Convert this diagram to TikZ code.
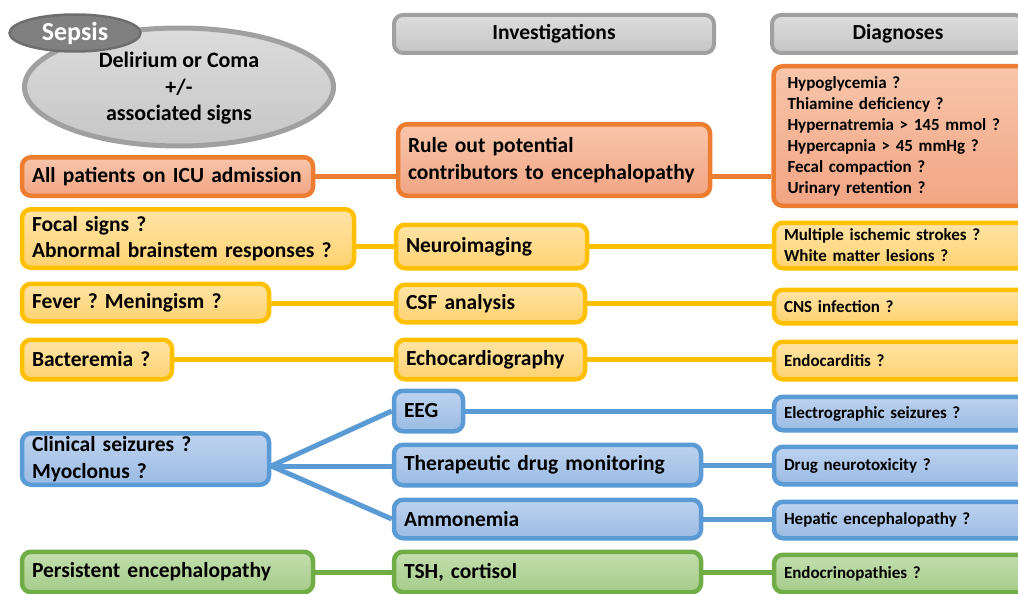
\documentclass[tikz,border=0pt]{standalone}
\usepackage{fontspec}
\setmainfont{Carlito}
\frenchspacing
\usetikzlibrary{shapes.geometric}
\definecolor{oB}{HTML}{ED7D31}
\definecolor{oT}{HTML}{F8C6AB}
\definecolor{oL}{HTML}{F1A584}
\definecolor{yB}{HTML}{FFC000}
\definecolor{yT}{HTML}{FFE4A6}
\definecolor{yL}{HTML}{FFD270}
\definecolor{bB}{HTML}{5B9BD5}
\definecolor{bT}{HTML}{BED3EF}
\definecolor{bL}{HTML}{9BBBE3}
\definecolor{gB}{HTML}{70AD47}
\definecolor{gT}{HTML}{C3DEAE}
\definecolor{gL}{HTML}{A5CC8A}
\definecolor{kB}{HTML}{A0A0A0}
\definecolor{kT}{HTML}{DCDCDC}
\definecolor{kL}{HTML}{C6C6C6}
\definecolor{sF}{HTML}{808080}
\definecolor{sB}{HTML}{6E6E6E}
\begin{document}
\begin{tikzpicture}[x=1pt,y=-1pt,
  box/.style={rounded corners=9pt, line width=4.5pt, inner xsep=10pt, inner ysep=1pt, align=left,
    execute at begin node={\hyphenpenalty=10000\exhyphenpenalty=10000},
    font=\frenchspacing\bfseries\fontsize{21.5}{26.5}\selectfont},
  smalltext/.style={font=\frenchspacing\bfseries\fontsize{17}{21}\selectfont},
  obox/.style={box, draw=oB, top color=oT, bottom color=oL},
  ybox/.style={box, draw=yB, top color=yT, bottom color=yL},
  bbox/.style={box, draw=bB, top color=bT, bottom color=bL},
  gbox/.style={box, draw=gB, top color=gT, bottom color=gL},
  hbox/.style={box, draw=kB, top color=kT, bottom color=kL, align=center, line width=4pt,
    font=\bfseries\fontsize{21.5}{24}\selectfont},
  conn/.style={line width=5pt},
  oline/.style={conn, draw=oB},
  yline/.style={conn, draw=yB},
  bline/.style={conn, draw=bB},
  gline/.style={conn, draw=gB}
]
\useasboundingbox (0,0) rectangle (1018,594);
\clip (0,0) rectangle (1018,594);

% top ellipses
\node[ellipse, draw=kB, line width=5pt, top color=kT, bottom color=kL, minimum width=309, minimum height=118,
  align=center, font=\bfseries\fontsize{22}{26.5}\selectfont] (main) at (179,87)
  {\strut Delirium or Coma\\+/-\\associated signs};
\node[ellipse, draw=sB, line width=2.5pt, fill=sF, minimum width=131, minimum height=37,
  text=white, font=\bfseries\fontsize{26}{28}\selectfont, inner sep=0pt] (sepsis) at (75,33) {Sepsis};

% headers
\node[hbox, minimum width=320, minimum height=38] (hinv) at (554,34) {Investigations};
\node[hbox, minimum width=252, minimum height=38] (hdia) at (898,34) {Diagnoses};

% left column
\node[obox, text width=271, minimum height=38.5] (all) at (167.5,176.5) {All patients on ICU admission};
\node[ybox, text width=312, minimum height=58.5] (focal) at (188,238.5) {Focal signs ?\\Abnormal brainstem responses ?};
\node[ybox, text width=227, minimum height=37.5] (fever) at (145.5,302.5) {Fever ? Meningism ?};
\node[ybox, text width=130, minimum height=39.5] (bact) at (97,359.5) {Bacteremia ?};
\node[bbox, text width=227, minimum height=51.5] (clin) at (145.5,459) {Clinical seizures ?\\Myoclonus ?};
\node[gbox, text width=271, minimum height=40.5] (pers) at (167.5,572) {Persistent encephalopathy};

% middle column
\node[obox, text width=292, minimum height=71.5, font=\frenchspacing\bfseries\fontsize{21.5}{27}\selectfont] (rule) at (554,160) {Rule out potential\\contributors to encephalopathy};
\node[ybox, text width=171, minimum height=43.5] (neuro) at (491.5,246.5) {Neuroimaging};
\node[ybox, text width=169, minimum height=37.5] (csf) at (490.5,303.5) {CSF analysis};
\node[ybox, text width=169, minimum height=39.5] (echo) at (490.5,359.5) {Echocardiography};
\node[bbox, text width=49, minimum height=40.5] (eeg) at (428.5,411) {EEG};
\node[bbox, text width=287, minimum height=40.5] (tdm) at (547.5,465) {Therapeutic drug monitoring};
\node[bbox, text width=287, minimum height=38.5] (amm) at (547.5,519) {Ammonemia};
\node[gbox, text width=287, minimum height=40.5] (tsh) at (547.5,572) {TSH, cortisol};

% right column
\node[obox, smalltext, inner xsep=14pt, text width=242, minimum height=139.5] (dO) at (908.5,136)
  {Hypoglycemia ?\\Thiamine deficiency ?\\Hypernatremia > 145 mmol ?\\Hypercapnia > 45 mmHg ?\\Fecal compaction ?\\Urinary retention ?};
\node[ybox, smalltext, text width=249, minimum height=45.5] (dN) at (908.5,245.5) {Multiple ischemic strokes ?\\White matter lesions ?};
\node[ybox, smalltext, text width=249, minimum height=33.5] (dC) at (908.5,306.5) {CNS infection ?};
\node[ybox, smalltext, text width=249, minimum height=37.5] (dE) at (908.5,360.5) {Endocarditis ?};
\node[bbox, smalltext, text width=249, minimum height=33.5] (dEEG) at (908.5,413.5) {Electrographic seizures ?};
\node[bbox, smalltext, text width=249, minimum height=37.5] (dD) at (908.5,465.5) {Drug neurotoxicity ?};
\node[bbox, smalltext, text width=249, minimum height=36.5] (dH) at (908.5,520) {Hepatic encephalopathy ?};
\node[gbox, smalltext, text width=249, minimum height=37.5] (dEn) at (908.5,573.5) {Endocrinopathies ?};

% connectors
\draw[oline] (all.east) -- (all.east -| rule.west);
\draw[oline] (rule.east |- all.east) -- (all.east -| dO.west);
\draw[yline] (focal.east |- neuro.west) -- (neuro.west);
\draw[yline] (neuro.east) -- (neuro.east -| dN.west);
\draw[yline] (fever.east |- csf.west) -- (csf.west);
\draw[yline] (csf.east) -- (csf.east -| dC.west);
\draw[yline] (bact.east) -- (bact.east -| echo.west);
\draw[yline] (echo.east) -- (echo.east -| dE.west);
\coordinate (fan) at ([yshift=-7pt]clin.east);
\draw[bline] (fan) -- (eeg.west);
\draw[bline] (fan) -- (fan -| tdm.west);
\draw[bline] (fan) -- (amm.west);
\draw[bline] (eeg.east) -- (eeg.east -| dEEG.west);
\draw[bline] (tdm.east) -- (tdm.east -| dD.west);
\draw[bline] (amm.east) -- (amm.east -| dH.west);
\draw[gline] (pers.east) -- (pers.east -| tsh.west);
\draw[gline] (tsh.east) -- (tsh.east -| dEn.west);
\end{tikzpicture}
\end{document}
